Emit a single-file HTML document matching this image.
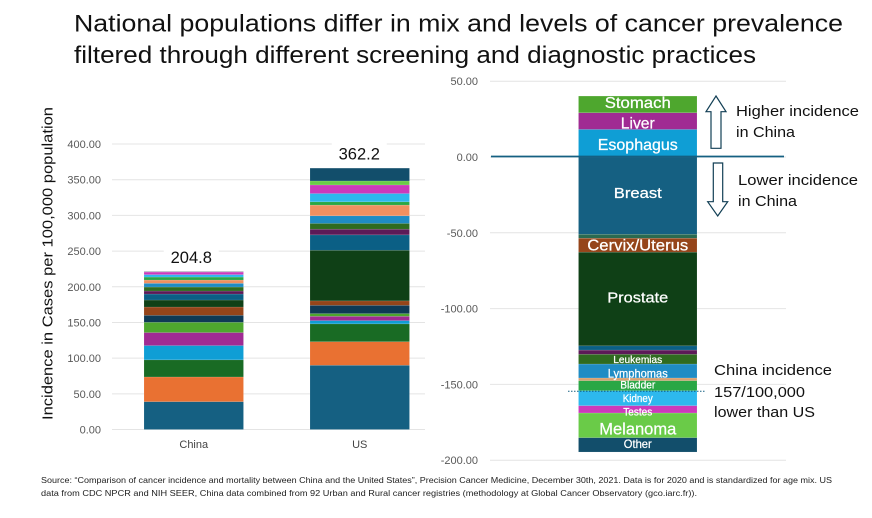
<!DOCTYPE html>
<html lang="en">
<head>
<meta charset="utf-8">
<title>National populations cancer prevalence</title>
<style>
html,body{margin:0;padding:0;background:#fff;}
svg{display:block;font-family:"Liberation Sans",sans-serif;}
</style>
</head>
<body>
<svg id="slide" width="872" height="518" viewBox="0 0 872 518" xmlns="http://www.w3.org/2000/svg">
  <rect width="872" height="518" fill="#fff"/>
  <g fill="#111" font-size="24.5">
    <text x="74" y="31.5" textLength="769" lengthAdjust="spacingAndGlyphs">National populations differ in mix and levels of cancer prevalence</text>
    <text x="74" y="63" textLength="682" lengthAdjust="spacingAndGlyphs">filtered through different screening  and diagnostic practices</text>
  </g>
  <g id="left-chart"></g>
  <g id="right-chart"></g>
  <text transform="translate(52.5,263.5) rotate(-90)" text-anchor="middle" font-size="14.5" fill="#111" textLength="313" lengthAdjust="spacingAndGlyphs">Incidence in Cases per 100,000 population</text>

  <path d="M716 96 L726 111.7 L721 111.7 L721 148.3 L711 148.3 L711 111.7 L706 111.7 Z" fill="#fff" stroke="#123f55" stroke-width="1.2"/>
  <path d="M717.7 216 L727.7 201.7 L722.7 201.7 L722.7 163 L713.3 163 L713.3 201.7 L707.7 201.7 Z" fill="#fff" stroke="#123f55" stroke-width="1.2"/>
  <g font-size="14.5" fill="#111">
    <text x="736" y="116" textLength="123" lengthAdjust="spacingAndGlyphs">Higher incidence</text>
    <text x="736" y="137" textLength="59" lengthAdjust="spacingAndGlyphs">in China</text>
    <text x="738" y="185" textLength="120" lengthAdjust="spacingAndGlyphs">Lower incidence</text>
    <text x="738" y="206" textLength="59" lengthAdjust="spacingAndGlyphs">in China</text>
    <text x="714" y="375" textLength="118" lengthAdjust="spacingAndGlyphs">China incidence</text>
    <text x="714" y="397" textLength="91" lengthAdjust="spacingAndGlyphs">157/100,000</text>
    <text x="714" y="417" textLength="101" lengthAdjust="spacingAndGlyphs">lower than US</text>
  </g>
  <g font-size="8.6" fill="#222">
    <text x="41" y="483" textLength="791" lengthAdjust="spacingAndGlyphs">Source: “Comparison of cancer incidence and mortality between China and the United States”, Precision Cancer Medicine, December 30th, 2021. Data is for 2020 and is standardized for age mix. US</text>
    <text x="41" y="496" textLength="656" lengthAdjust="spacingAndGlyphs">data from CDC NPCR and NIH SEER, China data combined from 92 Urban and Rural cancer registries (methodology at Global Cancer Observatory (gco.iarc.fr)).</text>
  </g>
</svg>
<script>
// Left chart data, bottom to top
const countries = ['China', 'US'];
const chinaValues = [39, 34.6, 24, 20, 18.2, 14.4, 9.8, 11.6, 9.8, 8.4, 4.2, 5.6, 5.2, 4.6, 4.2, 3.4, 3.6, 1];
const usValues = [90, 33, 25, 4.6, 6, 3.8, 11.6, 6.2, 71, 21.5, 8, 8, 10.7, 15, 4.6, 11.6, 12, 5.6, 18];
const totalLabels = ['204.8', '362.2'];
const leftTicks = [0, 50, 100, 150, 200, 250, 300, 350, 400];
// Right chart data
const aboveNames = ['Esophagus', 'Liver', 'Stomach'];
const aboveValues = [18.2, 11, 11];
const belowNames = ['Breast', '', 'Cervix/Uterus', 'Prostate', '', '', 'Leukemias', 'Lymphomas', '', 'Bladder', 'Kidney', 'Testes', 'Melanoma', 'Other'];
const belowValues = [51, 2.6, 9.2, 61.8, 2.8, 2.8, 6.4, 9.2, 1.8, 6.6, 9.9, 4.8, 16.3, 9.4];
const rightTicks = [50, 0, -50, -100, -150, -200];
const dottedLevel = -154.5;

// Colour palettes
const leftChinaColors = ['#156082','#E97132','#196B24','#0F9ED5','#A02B93','#4EA72E','#0F3A55','#95451A','#0F4016','#0B5F85','#5C1A57','#2F6B20','#1F8CC4','#F09060','#2AA745','#2DB8EE','#CC39BB','#9a9aa8'];
const leftUsColors = ['#156082','#E97132','#196B24','#0F9ED5','#A02B93','#4EA72E','#0F3A55','#95451A','#0F4016','#0B5F85','#5C1A57','#2F6B20','#1F8CC4','#F09060','#2AA745','#2DB8EE','#CC39BB','#6ACB48','#124E6B'];
const aboveColors = ['#0F9ED5','#A02B93','#4EA72E'];
const belowColors = ['#156082','#2A6A50','#95451A','#0F4016','#0B5F85','#5C1A57','#2F6B20','#1F8CC4','#D8A070','#2AA745','#2DB8EE','#CC39BB','#6ACB48','#124E6B'];
// Label styling, kept apart from the values
const aboveFont = [16, 16, 16];
const belowFont = [15, 0, 15.5, 15, 0, 0, 10.5, 12, 0, 11, 11, 11, 17, 12];
const aboveWidth = [80, 34, 66];
const belowWidth = [48, 0, 101, 61, 0, 0, 49, 60, 0, 35, 30, 29, 77, 28];
const aboveNudge = [1, 2, -2];
const belowNudge = [-3, 0, 0, -2, 0, 0, 0, 2, 0, -1, 0, 2, 3, -1];

const NS = 'http://www.w3.org/2000/svg';
function mk(parent, tag, attrs, text) {
  const el = document.createElementNS(NS, tag);
  for (const k in attrs) el.setAttribute(k, attrs[k]);
  if (text !== undefined) el.textContent = text;
  parent.appendChild(el);
  return el;
}

// Left axis functions
const yL = v => 429.5 - v * (285.5 / 400);
const barLX = i => [144, 310][i];
const barLW = 99.5;
const left = document.getElementById('left-chart');

leftTicks.forEach(t => {
  const line = mk(left, 'line', {x1: 112, x2: 425, y1: yL(t), y2: yL(t), stroke: '#e4e4e4', 'stroke-width': 1});
  
  
  const lab = mk(left, 'text', {x: 101, y: yL(t) + 4, 'text-anchor': 'end', 'font-size': 11, fill: '#595959'}, t.toFixed(2));
  
  
});

[chinaValues, usValues].forEach((vals, c) => {
  const colors = c === 0 ? leftChinaColors : leftUsColors;
  let acc = 0;
  vals.forEach((v, i) => {
    const seg = mk(left, 'rect', {x: barLX(c), y: yL(acc + v), width: barLW, height: yL(acc) - yL(acc + v), fill: colors[i], stroke: 'rgba(255,255,255,0.22)', 'stroke-width': 0.5});
    
    
    acc += v;
  });
  const cx = barLX(c) + barLW / 2;
  const lx = cx + (c === 0 ? -2.5 : -0.5);
  const box = mk(left, 'rect', {x: lx - 27.5, y: yL(acc) - 25, width: 55, height: 24, fill: '#fff'});
  
  
  const tot = mk(left, 'text', {x: lx, y: yL(acc) - 8.5, 'text-anchor': 'middle', 'font-size': 16.5, fill: '#111'}, totalLabels[c]);
  
  
  const cat = mk(left, 'text', {x: cx, y: 448, 'text-anchor': 'middle', 'font-size': 11, fill: '#444'}, countries[c]);
  
  
});

// Right axis functions
const yR = v => 157 - v * (379 / 250);
const barRX = 578.5, barRW = 118.5;
const right = document.getElementById('right-chart');

rightTicks.forEach(t => {
  const line = mk(right, 'line', {x1: 490, x2: 786, y1: yR(t), y2: yR(t), stroke: '#e4e4e4', 'stroke-width': 1});
  
  
  const lab = mk(right, 'text', {x: 478, y: yR(t) + 4, 'text-anchor': 'end', 'font-size': 11, fill: '#595959'}, t.toFixed(2));
  
  
});

function drawStack(values, names, colors, fonts, widths, nudges, sign) {
  let acc = 0;
  values.forEach((v, i) => {
    const a = yR(sign * acc), b = yR(sign * (acc + v));
    const top = Math.min(a, b), h = Math.abs(a - b);
    const seg = mk(right, 'rect', {x: barRX, y: top, width: barRW, height: h, fill: colors[i], stroke: 'rgba(255,255,255,0.22)', 'stroke-width': 0.5});
    
    
    acc += v;
  });
  acc = 0;
  values.forEach((v, i) => {
    const a = yR(sign * acc), b = yR(sign * (acc + v));
    if (names[i]) {
      const lab = mk(right, 'text', {x: barRX + barRW / 2, y: (a + b) / 2 + nudges[i] + fonts[i] * 0.35, 'text-anchor': 'middle', 'font-size': fonts[i], fill: '#fff', stroke: '#fff', 'stroke-width': 0.25, textLength: widths[i], lengthAdjust: 'spacingAndGlyphs'}, names[i]);
      
      
    }
    acc += v;
  });
}
drawStack(aboveValues, aboveNames, aboveColors, aboveFont, aboveWidth, aboveNudge, 1);
drawStack(belowValues, belowNames, belowColors, belowFont, belowWidth, belowNudge, -1);

const zero = mk(right, 'line', {x1: 491, x2: 784, y1: yR(0) - 0.5, y2: yR(0) - 0.5, stroke: '#156082', 'stroke-width': 1.8});


const dotted = mk(right, 'line', {x1: 568, x2: 706, y1: yR(dottedLevel), y2: yR(dottedLevel), stroke: '#156082', 'stroke-width': 1, 'stroke-dasharray': '1.5 1.5'});


</script>
</body>
</html>
